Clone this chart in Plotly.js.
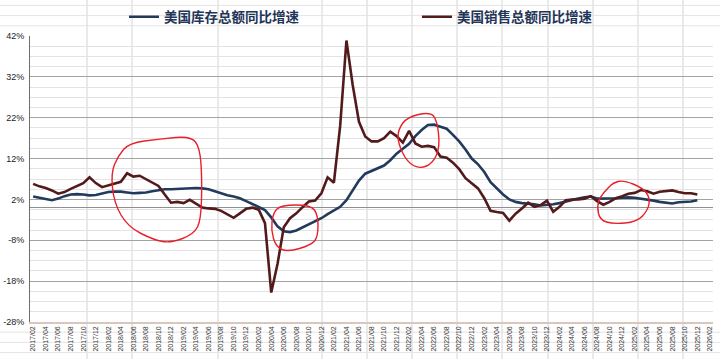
<!DOCTYPE html>
<html><head><meta charset="utf-8">
<script src="https://cdn.plot.ly/plotly-3.0.1.min.js"></script>
<style>html,body{margin:0;padding:0;background:#fff}#chart{width:720px;height:359px}</style>
</head><body><div id="chart"></div>
<script>
// ---- data ----
const monthLabels = [];
for (let k = 0; k < 109; k++) {
  const m = 1 + k; // months after 2017/01
  const y = 2017 + Math.floor(m / 12);
  const mm = (m % 12) + 1;
  monthLabels.push(y + '/' + String(mm).padStart(2, '0'));
}
const inventoryName = '美国库存总额同比增速';
const salesName = '美国销售总额同比增速';
const inventoryYoY = [
  2.7,2.4,2.0,1.8,2.2,2.8,3.2,3.3,3.2,3.0,
  3.1,3.4,3.8,3.9,3.9,3.7,3.5,3.6,3.7,4.0,
  4.3,4.5,4.5,4.6,4.6,4.7,4.8,4.7,4.5,4.0,
  3.5,3.0,2.7,2.3,1.6,0.8,0.2,-0.6,-2.4,-4.6,
  -5.8,-6.0,-5.6,-4.9,-4.2,-3.4,-2.6,-1.6,-0.8,0.2,
  1.8,4.3,6.6,8.3,9.0,9.6,10.3,11.6,13.2,14.4,
  15.6,17.5,19.0,20.2,20.3,19.8,19.3,17.8,16.2,14.2,
  12.0,10.6,8.7,6.2,4.6,3.2,2.0,1.4,1.1,1.0,
  0.8,0.5,0.6,0.8,1.1,1.5,1.8,2.2,2.5,2.7,
  2.2,2.2,2.2,2.3,2.4,2.5,2.4,2.2,2.0,1.7,
  1.4,1.2,1.0,1.3,1.4,1.5,1.8
];
const salesYoY = [
  5.8,5.2,4.8,4.2,3.4,3.8,4.6,5.4,6.0,7.4,
  6.0,5.0,5.4,5.8,6.3,8.4,7.6,7.8,7.0,6.0,
  5.3,3.2,1.2,1.4,1.1,1.9,1.0,0.0,-0.2,-0.3,
  -0.8,-1.6,-2.5,-1.4,-0.3,0.0,-0.5,-3.8,-20.8,-13.8,
  -4.8,-2.6,-1.4,0.1,1.5,1.7,3.5,7.4,6.1,20.0,
  40.9,30.0,21.0,17.4,16.2,16.2,17.0,18.6,17.5,15.9,
  18.8,15.7,14.9,15.1,14.8,12.5,12.2,11.0,9.4,7.2,
  6.0,4.7,2.3,-0.8,-1.1,-1.3,-3.2,-1.5,-0.2,1.2,
  0.2,0.6,1.7,-1.0,0.2,1.8,2.0,2.0,2.2,2.8,
  1.6,0.7,1.4,2.3,2.8,3.4,3.6,4.3,4.0,3.4,
  3.9,4.1,4.2,3.8,3.5,3.5,3.2
];
const yTickValues = [-28,-18,-8,2,12,22,32,42];

// ---- layout helpers (pixel -> paper) ----
const W = 720, H = 359, ML = 30, MR = 7, MT = 36, MB = 37;
const PW = W - ML - MR, PH = H - MT - MB;
const px = x => (x - ML) / PW;
const py = y => (H - MB - y) / PH;

const shapes = [];
// spreadsheet column borders
[87,132,218,322,367,412,457,502,548,593,638,683].forEach(x => {
  shapes.push({type:'line', xref:'paper', yref:'paper', x0:px(x), x1:px(x), y0:py(H), y1:py(0),
    line:{color:'#d4d4d4', width:1}, layer:'below'});
});
// spreadsheet rows outside plot area
[5.4,15.6,25.8,332.2,342.4,352.6].forEach(y => {
  shapes.push({type:'line', xref:'paper', yref:'paper', x0:px(0), x1:px(W), y0:py(y), y1:py(y),
    line:{color:'#e4e4e4', width:1}, layer:'below'});
});
// hand-drawn red circles
function smoothClosed(pts) {
  const P = pts.map(p => [px(p[0]), py(p[1])]);
  const n = P.length;
  const mid = (a, b) => [(a[0]+b[0])/2, (a[1]+b[1])/2];
  let m0 = mid(P[n-1], P[0]);
  let d = 'M' + m0[0] + ',' + m0[1];
  for (let i = 0; i < n; i++) {
    const c = P[i], m = mid(P[i], P[(i+1)%n]);
    d += ' Q' + c[0] + ',' + c[1] + ' ' + m[0] + ',' + m[1];
  }
  return d;
}
const circles = [
  [[129,143],[160,139],[191,136],[200,148],[202,180],[201,220],[194,234],[171,243],[154,240],[128,227],[114,203],[111,173],[118,156]],
  [[281,205],[311,205],[318,215],[318,237],[311,245],[288,252],[276,247],[271,230],[273,213]],
  [[407,117],[430,112],[437,120],[440,147],[433,163],[420,169],[407,162],[398,143],[398,130]],
  [[613,183],[623,180],[643,188],[650,198],[648,210],[637,222],[613,224],[600,220],[597,207],[600,197],[608,188]]
];
circles.forEach(c => shapes.push({type:'path', xref:'paper', yref:'paper', path:smoothClosed(c),
  line:{color:'#e8202a', width:1.4}, layer:'above'}));

const traces = [
  {x: monthLabels.slice(0, inventoryYoY.length), y: inventoryYoY, type:'scatter', mode:'lines',
   name: inventoryName, line:{color:'#223a5c', width:2.6}, legend:'legend'},
  {x: monthLabels.slice(0, salesYoY.length), y: salesYoY, type:'scatter', mode:'lines',
   name: salesName, line:{color:'#531a1c', width:2.6}, legend:'legend2'}
];

const legendFont = {family:'"Noto Sans CJK SC", "Noto Sans", sans-serif', size:13.5, color:'#1f3658', weight:'bold'};
const layout = {
  width: W, height: H,
  margin: {l:ML, r:MR, t:MT, b:MB, pad:0, autoexpand:false},
  paper_bgcolor:'#ffffff', plot_bgcolor:'#ffffff',
  font: {family:'"Liberation Sans", Arial, sans-serif', color:'#333'},
  showlegend: true,
  legend: {x: px(124), y: py(17), xanchor:'left', yanchor:'middle', orientation:'h',
    bgcolor:'rgba(0,0,0,0)', font: legendFont},
  legend2: {x: px(417), y: py(17), xanchor:'left', yanchor:'middle', orientation:'h',
    bgcolor:'rgba(0,0,0,0)', font: legendFont},
  xaxis: {
    type:'category', categoryorder:'array', categoryarray: monthLabels,
    range:[-0.5, monthLabels.length - 0.5],
    tickmode:'array', tickvals: monthLabels.filter((m, i) => i % 2 === 0),
    ticktext: monthLabels.filter((m, i) => i % 2 === 0),
    tickangle:-90, tickfont:{size:7, color:'#333'},
    showgrid:false, zeroline:false, showline:true, linecolor:'#d9c7bd', linewidth:1.5, ticks:'',
    fixedrange:true, automargin:false
  },
  yaxis: {
    range:[-28, 42], tickmode:'array', tickvals: yTickValues,
    ticktext: yTickValues.map(v => v + '%'),
    tickfont:{size:9, color:'#222'},
    showgrid:true, gridcolor:'#a3a3a3', gridwidth:1,
    minor:{tick0:2, dtick:2.5, showgrid:true, gridcolor:'#e3e3e3', gridwidth:1},
    zeroline:true, zerolinecolor:'#8f8f8f', zerolinewidth:1.2,
    showline:true, linecolor:'#6e6e6e', linewidth:1, ticks:'', ticklabelstandoff:3,
    fixedrange:true, automargin:false
  },
  shapes: shapes
};
Plotly.newPlot('chart', traces, layout, {displayModeBar:false, staticPlot:true});
</script>
</body></html>
